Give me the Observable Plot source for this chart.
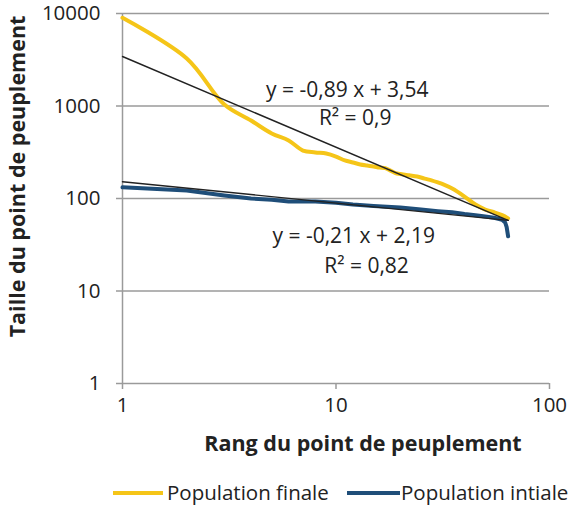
<!DOCTYPE html>
<html><head><meta charset="utf-8">
<script src="https://cdn.jsdelivr.net/npm/d3@7"></script>
<script src="https://cdn.jsdelivr.net/npm/@observablehq/plot@0.6"></script>
<style>
body{margin:0;background:#fff;font-family:"Open Sans",sans-serif;}
#wrap{position:relative;width:578px;height:510px;}
#legend{position:absolute;left:0;top:465px;width:578px;height:45px;}
.sw{position:absolute;height:4px;top:26px;}
.lt{position:absolute;top:13px;font-size:20.5px;color:#222;line-height:28px;white-space:nowrap;}
</style>
</head><body><div id="wrap"><div id="chart"></div>
<div id="legend">
  <div class="sw" style="left:113px;width:50px;background:#f5c518"></div>
  <div class="lt" style="left:167px">Population finale</div>
  <div class="sw" style="left:347px;width:53px;background:#1f4e79"></div>
  <div class="lt" style="left:401px">Population intiale</div>
</div></div>
<script>
// Tick values
const xTicks = [1, 10, 100];
const yTicks = [1, 10, 100, 1000, 10000];

// Population finale (rank, size)
const finalRanks = [1,2,3,4,5,6,7,8,9,10,11,12,13,14,15,16,17,18,19,20,22,24,26,28,30,32,35,40,45,50,55,60,64];
const finalValues = [9000,3265,1038,697,505,424,330,315,306,284,258,245,233,227,222,216,213,200,188,184,178,173,164,157,149,141,128,105,86,76,71,66,61];

// Population initiale (rank, size)
const initRanks = [1,2,3,4,5,6,7,8,10,12,15,20,25,30,35,40,45,50,55,60,62,63,64];
const initValues = [132,122,108,100,97,93,93,93,90,86,83,80,76,73,71,68,66,64,62,59,55,49,39];

// Trend lines (endpoints)
const trendFinal = [{r:1, v:3430}, {r:64, v:58}];
const trendInit = [{r:1, v:152}, {r:64, v:58}];

// Equation labels
const labels = [
  {r:11.3, v:1472, t:"y = -0,89 x + 3,54"},
  {r:12.3, v:733, t:"R² = 0,9"},
  {r:12.1, v:38.8, t:"y = -0,21 x + 2,19"},
  {r:13.9, v:18.4, t:"R² = 0,82"}
];

const finalData = finalRanks.map((r,i)=>({r, v: finalValues[i]}));
const initData = initRanks.map((r,i)=>({r, v: initValues[i]}));

const chart = Plot.plot({
  width: 578, height: 465,
  marginTop: 13, marginBottom: 82, marginLeft: 122, marginRight: 29,
  style: {fontFamily: "'Open Sans', sans-serif", fontSize: "20px", color: "#222", background: "#fff"},
  x: {type: "log", domain: [1, 100]},
  y: {type: "log", domain: [1, 10000]},
  marks: [
    Plot.gridY(yTicks, {stroke: "#9a9a9a", strokeOpacity: 1, strokeWidth: 1.5}),
    Plot.ruleX([1], {stroke: "#9a9a9a", strokeWidth: 1.5}),
    Plot.axisY(yTicks, {tickSize: 6, tickPadding: 16, stroke: "#9a9a9a", strokeWidth: 1.5, tickFormat: d => String(d), label: null, fontSize: 20.5, fill: "#222"}),
    Plot.axisX(xTicks, {tickSize: 6, tickPadding: 8, stroke: "#9a9a9a", strokeWidth: 1.5, tickFormat: d => String(d), label: null, fontSize: 20.5, fill: "#222"}),
    Plot.line(finalData, {x: "r", y: "v", stroke: "#f5c518", strokeWidth: 4, curve: "catmull-rom"}),
    Plot.line(initData, {x: "r", y: "v", stroke: "#1f4e79", strokeWidth: 4}),
    Plot.line(trendFinal, {x: "r", y: "v", stroke: "#222", strokeWidth: 1.4}),
    Plot.line(trendInit, {x: "r", y: "v", stroke: "#222", strokeWidth: 1.4}),
    Plot.text(labels, {x: "r", y: "v", text: "t", fontSize: 21, fill: "#222"}),
    Plot.text(["Rang du point de peuplement"], {frameAnchor: "bottom", dx: 27, dy: 67, fontWeight: "bold", fontSize: 21.5, fill: "#222"}),
    Plot.text(["Taille du point de peuplement"], {frameAnchor: "left", textAnchor: "middle", dx: -104, dy: -22, rotate: -90, fontWeight: "bold", fontSize: 21.5, fill: "#222"})
  ]
});
document.getElementById("chart").appendChild(chart);
</script></body></html>
